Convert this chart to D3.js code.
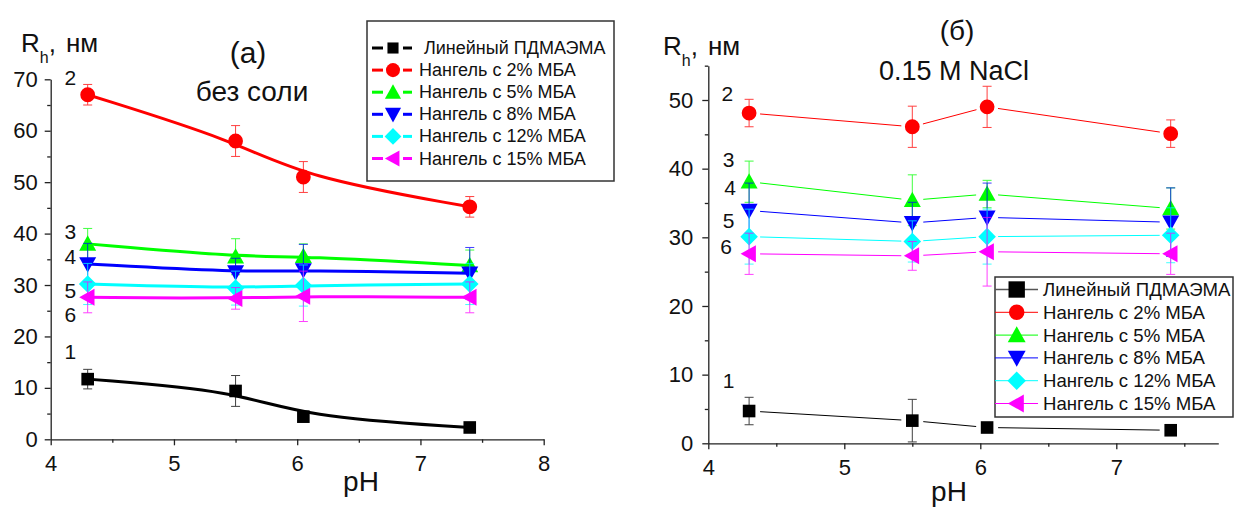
<!DOCTYPE html>
<html>
<head>
<meta charset="utf-8">
<script src="https://cdn.jsdelivr.net/npm/d3@7"></script>
<style>
  body { margin: 0; background: #fff; }
  svg { display: block; font-family: "Liberation Sans", Arial, sans-serif; }
  .axis path, .axis line { stroke: #222; stroke-width: 1.3; }
  .axis text { font-family: "Liberation Sans", Arial, sans-serif; font-size: 22px; fill: #111; }
</style>
</head>
<body>
<svg id="chart" width="1238" height="508"></svg>
<script>
var width = 1238, height = 508

// data
const pHValues = [4.3, 5.5, 6.05, 7.4]
const seriesNames = ['Линейный ПДМАЭМА', 'Нангель с 2% МБА', 'Нангель с 5% МБА', 'Нангель с 8% МБА', 'Нангель с 12% МБА', 'Нангель с 15% МБА']
const seriesColors = ['#000000', '#ff0000', '#00ff00', '#0000ff', '#00ffff', '#ff00ff']
const seriesSymbols = ['square', 'circle', 'up', 'down', 'diamond', 'left']
const curveNumbers = ['1', '2', '3', '4', '5', '6']

// (а) без соли
const noSaltRh = [[11.7, 9.4, 4.4, 2.3], [67, 58, 51, 45.2], [38, 35.5, 35.6, 33.8], [34.1, 32.5, 32.9, 32.3], [30.2, 29.4, 29.9, 30.2], [27.6, 27.4, 27.8, 27.6]]
const noSaltErr = [[1.9, 3, 0, 0], [2, 3, 3, 2], [3, 3.5, 2.4, 3], [4, 2.7, 5, 5], [4, 3.3, 4, 4], [3, 2.1, 4.9, 3]]
const noSaltLabelPos = [[4.16, 17.0], [4.16, 70.3], [4.16, 40.4], [4.16, 35.6], [4.16, 29.0], [4.16, 24.2]]

// (б) 0.15 M NaCl
const naclRh = [[4.7, 3.3, 2.3, 1.9], [48.1, 46.1, 49, 45.1], [38.1, 35.4, 36.3, 34.2], [33.9, 32.1, 32.9, 32.2], [30.1, 29.4, 30.1, 30.3], [27.6, 27.3, 27.9, 27.6]]
const naclErr = [[2, 3.1, 0, 0], [2, 3, 3, 2], [3, 3.7, 2, 3], [4, 3, 5, 5], [4, 3, 4, 4], [3, 2.1, 5, 3]]
const naclLabelPos = [[4.15, 9.2], [4.14, 50.9], [4.15, 41.4], [4.16, 37.3], [4.15, 32.5], [4.13, 28.6]]

const svg = d3.select('svg#chart')
svg.append('rect').attr('width', width).attr('height', height).attr('fill', '#fff')

// marker path, s = half size
function symbolPath(type, s) {
  if (type == 'circle') return d3.symbol(d3.symbolCircle, Math.PI * s * s)()
  var pts
  if (type == 'square') pts = [[-s, -s], [s, -s], [s, s], [-s, s]]
  if (type == 'up') pts = [[0, -s], [s, s * 0.8], [-s, s * 0.8]]
  if (type == 'down') pts = [[0, s], [s, -s * 0.8], [-s, -s * 0.8]]
  if (type == 'diamond') pts = [[0, -s], [s, 0], [0, s], [-s, 0]]
  if (type == 'left') pts = [[-s, 0], [s * 0.8, -s], [s * 0.8, s]]
  return 'M' + pts.map(p => p.join(',')).join('L') + 'Z'
}

var markerSize = {square: 6.3, circle: 7.4, up: 8.5, down: 8.5, diamond: 8.8, left: 8.5}

function drawPanel(cfg) {
  const x = d3.scaleLinear().domain(cfg.xDomain).range(cfg.xRange)
  const y = d3.scaleLinear().domain(cfg.yDomain).range(cfg.yRange)
  const g = svg.append('g')

  // axes
  g.append('g').attr('class', 'axis')
      .attr('transform', `translate(0,${cfg.yRange[0]})`)
      .call(d3.axisBottom(x).tickValues(cfg.xTicks).tickFormat(d3.format('d')).tickSize(6).tickPadding(10).tickSizeOuter(0))
  g.append('g').attr('class', 'axis')
      .attr('transform', `translate(0,${cfg.yRange[0]})`)
      .call(d3.axisBottom(x).tickValues(cfg.xMinor).tickSize(3.5).tickFormat(''))
      .select('.domain').remove()
  g.append('g').attr('class', 'axis')
      .attr('transform', `translate(${cfg.xRange[0]},0)`)
      .call(d3.axisLeft(y).tickValues(cfg.yTicks).tickFormat(d3.format('d')).tickSize(6).tickPadding(cfg.yPad).tickSizeOuter(0))
  g.append('g').attr('class', 'axis')
      .attr('transform', `translate(${cfg.xRange[0]},0)`)
      .call(d3.axisLeft(y).tickValues(cfg.yMinor).tickSize(3.5).tickFormat(''))
      .select('.domain').remove()

  cfg.values.forEach((vals, i) => {
    var pts = vals.map((v, j) => [x(pHValues[j]), y(v)])
    var color = seriesColors[i]

    // line
    if (cfg.smooth) {
      g.append('path')
          .attr('d', d3.line().curve(d3.curveBasis)(pts))
          .attr('fill', 'none')
          .attr('stroke', color)
          .attr('stroke-width', 3)
    } else {
      for (var k = 0; k < pts.length - 1; k++) {
        var p1 = pts[k], p2 = pts[k + 1]
        var dx = p2[0] - p1[0], dy = p2[1] - p1[1]
        var d = Math.sqrt(dx * dx + dy * dy)
        var ux = dx / d, uy = dy / d, gap = 11
        g.append('line')
            .attr('x1', p1[0] + ux * gap).attr('y1', p1[1] + uy * gap)
            .attr('x2', p2[0] - ux * gap).attr('y2', p2[1] - uy * gap)
            .attr('stroke', color)
            .attr('stroke-width', 1)
      }
    }

    // error bars
    var errs = cfg.errors[i]
    var eg = g.append('g').attr('stroke', color).attr('stroke-width', 1).attr('opacity', 0.75)
    vals.forEach((v, j) => {
      if (!errs[j]) return
      var cx = x(pHValues[j]), top = y(v + errs[j]), bot = y(v - errs[j])
      eg.append('line').attr('x1', cx).attr('x2', cx).attr('y1', top).attr('y2', bot)
      eg.append('line').attr('x1', cx - 4.5).attr('x2', cx + 4.5).attr('y1', top).attr('y2', top)
      eg.append('line').attr('x1', cx - 4.5).attr('x2', cx + 4.5).attr('y1', bot).attr('y2', bot)
    })

    // markers
    g.append('g').selectAll('path')
      .data(pts)
      .join('path')
        .attr('transform', d => `translate(${d[0]},${d[1]})`)
        .attr('d', symbolPath(seriesSymbols[i], markerSize[seriesSymbols[i]]))
        .attr('fill', color)
  })

  // curve numbers
  g.append('g').selectAll('text')
    .data(cfg.labelPos)
    .join('text')
      .attr('x', d => x(d[0]))
      .attr('y', d => y(d[1]))
      .attr('text-anchor', 'middle')
      .attr('dominant-baseline', 'central')
      .attr('font-size', 21)
      .attr('fill', '#111')
      .text((d, i) => curveNumbers[i])

  // y title R_h, нм
  var t = g.append('text')
      .attr('x', cfg.titleX)
      .attr('y', cfg.titleY)
      .attr('font-size', 26)
      .attr('fill', '#111')
  t.append('tspan').text('R')
  t.append('tspan').attr('dy', 11).attr('font-size', 16).text('h')
  t.append('tspan').attr('dy', -11).text(',')
  t.append('tspan').attr('dx', 10).text('нм')

  // x title
  g.append('text')
      .attr('x', cfg.pHX)
      .attr('y', cfg.pHY)
      .attr('text-anchor', 'middle')
      .attr('font-size', 28)
      .attr('fill', '#111')
      .text('pH')

  return {x: x, y: y}
}

function drawLegend(lg) {
  var g = svg.append('g')
  g.append('rect')
      .attr('x', lg.x).attr('y', lg.y)
      .attr('width', lg.w).attr('height', lg.h)
      .attr('fill', '#fff')
      .attr('stroke', '#333')
      .attr('stroke-width', 1.5)
  seriesNames.forEach((name, i) => {
    var cy = lg.firstRow + i * lg.rowStep
    var color = seriesColors[i]
    if (lg.dashed) {
      g.append('line').attr('x1', lg.lineX0).attr('x2', lg.markerX - 10).attr('y1', cy).attr('y2', cy)
          .attr('stroke', color).attr('stroke-width', 3)
      g.append('line').attr('x1', lg.markerX + 10).attr('x2', lg.lineX1).attr('y1', cy).attr('y2', cy)
          .attr('stroke', color).attr('stroke-width', 3)
    } else {
      g.append('line').attr('x1', lg.lineX0).attr('x2', lg.lineX1).attr('y1', cy).attr('y2', cy)
          .attr('stroke', i == 0 ? '#555' : color).attr('stroke-width', i == 0 ? 1.5 : 1)
    }
    var sym = seriesSymbols[i]
    g.append('path')
        .attr('transform', `translate(${lg.markerX},${cy})`)
        .attr('d', symbolPath(sym, markerSize[sym] * lg.markerScale[sym == 'square' ? 0 : 1]))
        .attr('fill', color)
    g.append('text')
        .attr('x', lg.textX + (i == 0 ? lg.firstIndent : 0))
        .attr('y', cy)
        .attr('dominant-baseline', 'central')
        .attr('font-size', lg.fontSize)
        .attr('fill', '#111')
        .text(name)
  })
}

// panel (а)
drawPanel({
  xDomain: [4, 8], xRange: [50.7, 543.7],
  yDomain: [0, 70], yRange: [439.3, 79.3],
  xTicks: [4, 5, 6, 7, 8], xMinor: [4.5, 5.5, 6.5, 7.5],
  yTicks: d3.range(0, 71, 10), yMinor: d3.range(5, 70, 10),
  yPad: 7,
  values: noSaltRh, errors: noSaltErr, labelPos: noSaltLabelPos,
  smooth: true,
  titleX: 21, titleY: 52, pHX: 361, pHY: 491
})

svg.append('text').attr('x', 248).attr('y', 63).attr('text-anchor', 'middle')
    .attr('font-size', 30).attr('fill', '#111').text('(а)')
svg.append('text').attr('x', 252).attr('y', 101).attr('text-anchor', 'middle')
    .attr('font-size', 28).attr('fill', '#111').text('без соли')

drawLegend({
  x: 367, y: 21, w: 247, h: 160, dashed: true, fontSize: 18,
  firstRow: 48, rowStep: 22.1, markerX: 393, lineX0: 372, lineX1: 412,
  textX: 419, firstIndent: 5, markerScale: [0.88, 0.95]
})

// panel (б)
drawPanel({
  xDomain: [4, 7.75], xRange: [708.3, 708.3 + 3.75 * 136],
  yDomain: [0, 55], yRange: [443.3, 443.3 - 55 * 6.866],
  xTicks: [4, 5, 6, 7], xMinor: [4.5, 5.5, 6.5, 7.5],
  yTicks: d3.range(0, 51, 10), yMinor: d3.range(5, 56, 10),
  yPad: 9,
  values: naclRh, errors: naclErr, labelPos: naclLabelPos,
  smooth: false,
  titleX: 663, titleY: 55, pHX: 949, pHY: 501
})

svg.append('text').attr('x', 957).attr('y', 40).attr('text-anchor', 'middle')
    .attr('font-size', 28).attr('fill', '#111').text('(б)')
svg.append('text').attr('x', 954).attr('y', 80).attr('text-anchor', 'middle')
    .attr('font-size', 27).attr('fill', '#111').text('0.15 M NaCl')

drawLegend({
  x: 995, y: 277, w: 238, h: 140, dashed: false, fontSize: 18.6,
  firstRow: 289.5, rowStep: 22.8, markerX: 1016.7, lineX0: 995, lineX1: 1038,
  textX: 1043, firstIndent: 0, markerScale: [1.3, 1.05]
})
</script>
</body>
</html>
